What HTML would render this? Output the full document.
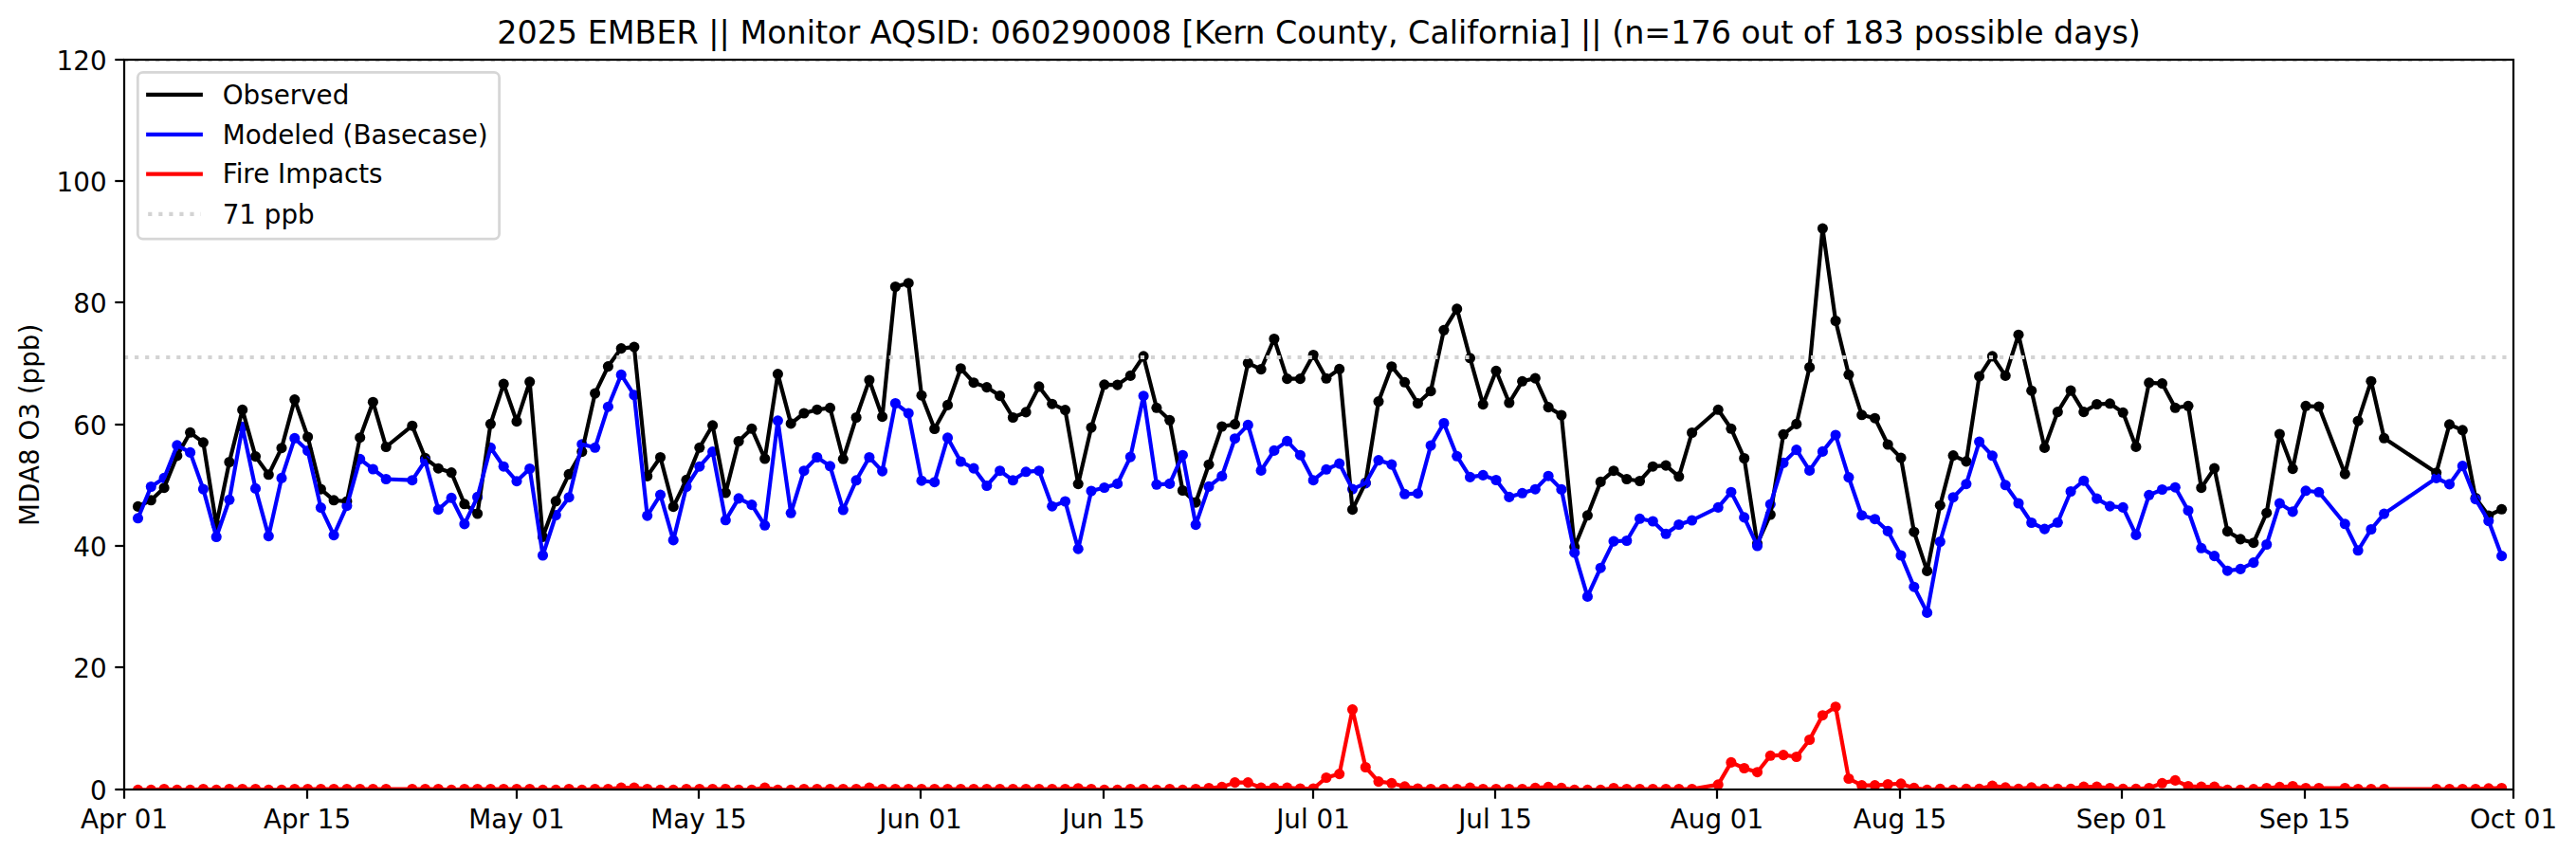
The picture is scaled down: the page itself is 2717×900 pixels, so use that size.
<!DOCTYPE html>
<html lang="en"><head><meta charset="utf-8"><title>2025 EMBER MDA8 O3</title>
<style>html,body{margin:0;padding:0;background:#fff;overflow:hidden;}svg{display:block;}text{font-family:"DejaVu Sans","Liberation Sans",sans-serif;fill:#000;}</style></head><body>
<svg width="2717" height="900" viewBox="0 0 2717 900">
<rect width="2717" height="900" fill="#fff"/>
<defs><clipPath id="ax"><rect x="131.0" y="63.0" width="2520.0" height="770.0"/></clipPath></defs>
<g clip-path="url(#ax)">
<g fill="#000"><circle cx="145.5" cy="534.4" r="5.55"/><circle cx="159.3" cy="527.8" r="5.55"/><circle cx="173.1" cy="514.7" r="5.55"/><circle cx="186.8" cy="480.9" r="5.55"/><circle cx="200.6" cy="456.3" r="5.55"/><circle cx="214.4" cy="466.8" r="5.55"/><circle cx="228.2" cy="553.6" r="5.55"/><circle cx="241.9" cy="487.5" r="5.55"/><circle cx="255.7" cy="432.4" r="5.55"/><circle cx="269.5" cy="481.6" r="5.55"/><circle cx="283.3" cy="500.8" r="5.55"/><circle cx="297.0" cy="472.7" r="5.55"/><circle cx="310.8" cy="421.6" r="5.55"/><circle cx="324.6" cy="461.0" r="5.55"/><circle cx="338.4" cy="516.1" r="5.55"/><circle cx="352.1" cy="527.8" r="5.55"/><circle cx="365.9" cy="529.0" r="5.55"/><circle cx="379.7" cy="461.7" r="5.55"/><circle cx="393.4" cy="424.2" r="5.55"/><circle cx="407.2" cy="471.5" r="5.55"/><circle cx="434.8" cy="449.2" r="5.55"/><circle cx="448.5" cy="483.3" r="5.55"/><circle cx="462.3" cy="494.2" r="5.55"/><circle cx="476.1" cy="498.6" r="5.55"/><circle cx="489.9" cy="531.8" r="5.55"/><circle cx="503.6" cy="542.0" r="5.55"/><circle cx="517.4" cy="447.3" r="5.55"/><circle cx="531.2" cy="405.1" r="5.55"/><circle cx="545.0" cy="444.7" r="5.55"/><circle cx="558.7" cy="402.8" r="5.55"/><circle cx="572.5" cy="566.4" r="5.55"/><circle cx="586.3" cy="528.8" r="5.55"/><circle cx="600.1" cy="500.4" r="5.55"/><circle cx="613.8" cy="476.6" r="5.55"/><circle cx="627.6" cy="415.1" r="5.55"/><circle cx="641.4" cy="386.6" r="5.55"/><circle cx="655.2" cy="367.6" r="5.55"/><circle cx="668.9" cy="366.1" r="5.55"/><circle cx="682.7" cy="502.4" r="5.55"/><circle cx="696.5" cy="482.5" r="5.55"/><circle cx="710.2" cy="534.7" r="5.55"/><circle cx="724.0" cy="506.3" r="5.55"/><circle cx="737.8" cy="472.3" r="5.55"/><circle cx="751.6" cy="448.8" r="5.55"/><circle cx="765.3" cy="520.0" r="5.55"/><circle cx="779.1" cy="465.5" r="5.55"/><circle cx="792.9" cy="452.3" r="5.55"/><circle cx="806.7" cy="484.0" r="5.55"/><circle cx="820.4" cy="394.6" r="5.55"/><circle cx="834.2" cy="446.9" r="5.55"/><circle cx="848.0" cy="436.0" r="5.55"/><circle cx="861.8" cy="432.2" r="5.55"/><circle cx="875.5" cy="430.4" r="5.55"/><circle cx="889.3" cy="484.3" r="5.55"/><circle cx="903.1" cy="440.5" r="5.55"/><circle cx="916.9" cy="401.1" r="5.55"/><circle cx="930.6" cy="439.7" r="5.55"/><circle cx="944.4" cy="302.5" r="5.55"/><circle cx="958.2" cy="298.7" r="5.55"/><circle cx="972.0" cy="417.2" r="5.55"/><circle cx="985.7" cy="452.5" r="5.55"/><circle cx="999.5" cy="427.4" r="5.55"/><circle cx="1013.3" cy="388.7" r="5.55"/><circle cx="1027.0" cy="403.7" r="5.55"/><circle cx="1040.8" cy="408.6" r="5.55"/><circle cx="1054.6" cy="417.6" r="5.55"/><circle cx="1068.4" cy="440.5" r="5.55"/><circle cx="1082.1" cy="434.9" r="5.55"/><circle cx="1095.9" cy="407.9" r="5.55"/><circle cx="1109.7" cy="426.2" r="5.55"/><circle cx="1123.5" cy="432.6" r="5.55"/><circle cx="1137.2" cy="510.6" r="5.55"/><circle cx="1151.0" cy="451.1" r="5.55"/><circle cx="1164.8" cy="405.8" r="5.55"/><circle cx="1178.6" cy="406.1" r="5.55"/><circle cx="1192.3" cy="396.4" r="5.55"/><circle cx="1206.1" cy="375.9" r="5.55"/><circle cx="1219.9" cy="430.3" r="5.55"/><circle cx="1233.7" cy="443.3" r="5.55"/><circle cx="1247.4" cy="517.5" r="5.55"/><circle cx="1261.2" cy="530.1" r="5.55"/><circle cx="1275.0" cy="490.2" r="5.55"/><circle cx="1288.8" cy="450.0" r="5.55"/><circle cx="1302.5" cy="447.6" r="5.55"/><circle cx="1316.3" cy="383.1" r="5.55"/><circle cx="1330.1" cy="389.6" r="5.55"/><circle cx="1343.9" cy="357.5" r="5.55"/><circle cx="1357.6" cy="399.6" r="5.55"/><circle cx="1371.4" cy="399.6" r="5.55"/><circle cx="1385.2" cy="374.5" r="5.55"/><circle cx="1398.9" cy="399.3" r="5.55"/><circle cx="1412.7" cy="389.4" r="5.55"/><circle cx="1426.5" cy="537.7" r="5.55"/><circle cx="1440.3" cy="509.4" r="5.55"/><circle cx="1454.0" cy="423.6" r="5.55"/><circle cx="1467.8" cy="386.7" r="5.55"/><circle cx="1481.6" cy="403.3" r="5.55"/><circle cx="1495.4" cy="425.6" r="5.55"/><circle cx="1509.1" cy="412.7" r="5.55"/><circle cx="1522.9" cy="348.3" r="5.55"/><circle cx="1536.7" cy="325.9" r="5.55"/><circle cx="1550.5" cy="377.8" r="5.55"/><circle cx="1564.2" cy="426.6" r="5.55"/><circle cx="1578.0" cy="391.3" r="5.55"/><circle cx="1591.8" cy="425.0" r="5.55"/><circle cx="1605.6" cy="402.3" r="5.55"/><circle cx="1619.3" cy="399.1" r="5.55"/><circle cx="1633.1" cy="429.6" r="5.55"/><circle cx="1646.9" cy="438.0" r="5.55"/><circle cx="1660.7" cy="577.1" r="5.55"/><circle cx="1674.4" cy="543.8" r="5.55"/><circle cx="1688.2" cy="508.4" r="5.55"/><circle cx="1702.0" cy="496.7" r="5.55"/><circle cx="1715.8" cy="505.5" r="5.55"/><circle cx="1729.5" cy="507.5" r="5.55"/><circle cx="1743.3" cy="492.2" r="5.55"/><circle cx="1757.1" cy="491.1" r="5.55"/><circle cx="1770.8" cy="502.8" r="5.55"/><circle cx="1784.6" cy="456.5" r="5.55"/><circle cx="1812.2" cy="432.3" r="5.55"/><circle cx="1825.9" cy="452.3" r="5.55"/><circle cx="1839.7" cy="483.5" r="5.55"/><circle cx="1853.5" cy="573.7" r="5.55"/><circle cx="1867.3" cy="543.0" r="5.55"/><circle cx="1881.0" cy="458.3" r="5.55"/><circle cx="1894.8" cy="447.4" r="5.55"/><circle cx="1908.6" cy="387.5" r="5.55"/><circle cx="1922.4" cy="241.1" r="5.55"/><circle cx="1936.1" cy="338.5" r="5.55"/><circle cx="1949.9" cy="395.3" r="5.55"/><circle cx="1963.7" cy="437.8" r="5.55"/><circle cx="1977.5" cy="441.2" r="5.55"/><circle cx="1991.2" cy="469.0" r="5.55"/><circle cx="2005.0" cy="483.1" r="5.55"/><circle cx="2018.8" cy="561.2" r="5.55"/><circle cx="2032.6" cy="602.4" r="5.55"/><circle cx="2046.3" cy="533.2" r="5.55"/><circle cx="2060.1" cy="480.6" r="5.55"/><circle cx="2073.9" cy="486.9" r="5.55"/><circle cx="2087.6" cy="397.1" r="5.55"/><circle cx="2101.4" cy="375.9" r="5.55"/><circle cx="2115.2" cy="396.4" r="5.55"/><circle cx="2129.0" cy="353.2" r="5.55"/><circle cx="2142.7" cy="412.2" r="5.55"/><circle cx="2156.5" cy="472.4" r="5.55"/><circle cx="2170.3" cy="434.6" r="5.55"/><circle cx="2184.1" cy="412.1" r="5.55"/><circle cx="2197.8" cy="434.6" r="5.55"/><circle cx="2211.6" cy="426.5" r="5.55"/><circle cx="2225.4" cy="425.8" r="5.55"/><circle cx="2239.2" cy="435.3" r="5.55"/><circle cx="2252.9" cy="471.4" r="5.55"/><circle cx="2266.7" cy="403.8" r="5.55"/><circle cx="2280.5" cy="404.6" r="5.55"/><circle cx="2294.3" cy="430.3" r="5.55"/><circle cx="2308.0" cy="428.3" r="5.55"/><circle cx="2321.8" cy="514.7" r="5.55"/><circle cx="2335.6" cy="494.1" r="5.55"/><circle cx="2349.4" cy="560.6" r="5.55"/><circle cx="2363.1" cy="568.9" r="5.55"/><circle cx="2376.9" cy="572.7" r="5.55"/><circle cx="2390.7" cy="541.2" r="5.55"/><circle cx="2404.4" cy="458.0" r="5.55"/><circle cx="2418.2" cy="494.6" r="5.55"/><circle cx="2432.0" cy="428.3" r="5.55"/><circle cx="2445.8" cy="429.0" r="5.55"/><circle cx="2473.3" cy="500.1" r="5.55"/><circle cx="2487.1" cy="444.2" r="5.55"/><circle cx="2500.9" cy="402.2" r="5.55"/><circle cx="2514.6" cy="462.3" r="5.55"/><circle cx="2569.7" cy="498.8" r="5.55"/><circle cx="2583.5" cy="447.9" r="5.55"/><circle cx="2597.3" cy="453.9" r="5.55"/><circle cx="2611.1" cy="525.5" r="5.55"/><circle cx="2624.8" cy="544.0" r="5.55"/><circle cx="2638.6" cy="537.3" r="5.55"/></g>
<g fill="#0000ff"><circle cx="145.5" cy="546.8" r="5.55"/><circle cx="159.3" cy="513.5" r="5.55"/><circle cx="173.1" cy="504.4" r="5.55"/><circle cx="186.8" cy="469.9" r="5.55"/><circle cx="200.6" cy="477.4" r="5.55"/><circle cx="214.4" cy="516.1" r="5.55"/><circle cx="228.2" cy="566.5" r="5.55"/><circle cx="241.9" cy="527.3" r="5.55"/><circle cx="255.7" cy="450.4" r="5.55"/><circle cx="269.5" cy="515.4" r="5.55"/><circle cx="283.3" cy="565.6" r="5.55"/><circle cx="297.0" cy="504.4" r="5.55"/><circle cx="310.8" cy="462.4" r="5.55"/><circle cx="324.6" cy="475.5" r="5.55"/><circle cx="338.4" cy="535.6" r="5.55"/><circle cx="352.1" cy="564.6" r="5.55"/><circle cx="365.9" cy="533.7" r="5.55"/><circle cx="379.7" cy="484.4" r="5.55"/><circle cx="393.4" cy="495.0" r="5.55"/><circle cx="407.2" cy="505.5" r="5.55"/><circle cx="434.8" cy="506.7" r="5.55"/><circle cx="448.5" cy="486.1" r="5.55"/><circle cx="462.3" cy="537.6" r="5.55"/><circle cx="476.1" cy="525.3" r="5.55"/><circle cx="489.9" cy="552.9" r="5.55"/><circle cx="503.6" cy="524.4" r="5.55"/><circle cx="517.4" cy="472.3" r="5.55"/><circle cx="531.2" cy="492.2" r="5.55"/><circle cx="545.0" cy="507.7" r="5.55"/><circle cx="558.7" cy="494.5" r="5.55"/><circle cx="572.5" cy="586.0" r="5.55"/><circle cx="586.3" cy="543.5" r="5.55"/><circle cx="600.1" cy="524.7" r="5.55"/><circle cx="613.8" cy="468.7" r="5.55"/><circle cx="627.6" cy="472.3" r="5.55"/><circle cx="641.4" cy="429.2" r="5.55"/><circle cx="655.2" cy="395.4" r="5.55"/><circle cx="668.9" cy="416.8" r="5.55"/><circle cx="682.7" cy="544.1" r="5.55"/><circle cx="696.5" cy="522.1" r="5.55"/><circle cx="710.2" cy="569.9" r="5.55"/><circle cx="724.0" cy="513.6" r="5.55"/><circle cx="737.8" cy="492.2" r="5.55"/><circle cx="751.6" cy="476.6" r="5.55"/><circle cx="765.3" cy="548.8" r="5.55"/><circle cx="779.1" cy="525.9" r="5.55"/><circle cx="792.9" cy="532.6" r="5.55"/><circle cx="806.7" cy="554.3" r="5.55"/><circle cx="820.4" cy="443.8" r="5.55"/><circle cx="834.2" cy="541.3" r="5.55"/><circle cx="848.0" cy="496.7" r="5.55"/><circle cx="861.8" cy="482.5" r="5.55"/><circle cx="875.5" cy="491.8" r="5.55"/><circle cx="889.3" cy="538.0" r="5.55"/><circle cx="903.1" cy="506.8" r="5.55"/><circle cx="916.9" cy="482.5" r="5.55"/><circle cx="930.6" cy="497.1" r="5.55"/><circle cx="944.4" cy="425.5" r="5.55"/><circle cx="958.2" cy="436.0" r="5.55"/><circle cx="972.0" cy="507.2" r="5.55"/><circle cx="985.7" cy="508.7" r="5.55"/><circle cx="999.5" cy="461.9" r="5.55"/><circle cx="1013.3" cy="487.0" r="5.55"/><circle cx="1027.0" cy="494.1" r="5.55"/><circle cx="1040.8" cy="512.5" r="5.55"/><circle cx="1054.6" cy="496.7" r="5.55"/><circle cx="1068.4" cy="506.8" r="5.55"/><circle cx="1082.1" cy="497.8" r="5.55"/><circle cx="1095.9" cy="496.7" r="5.55"/><circle cx="1109.7" cy="534.2" r="5.55"/><circle cx="1123.5" cy="529.0" r="5.55"/><circle cx="1137.2" cy="579.2" r="5.55"/><circle cx="1151.0" cy="518.0" r="5.55"/><circle cx="1164.8" cy="514.5" r="5.55"/><circle cx="1178.6" cy="510.4" r="5.55"/><circle cx="1192.3" cy="482.1" r="5.55"/><circle cx="1206.1" cy="417.7" r="5.55"/><circle cx="1219.9" cy="511.3" r="5.55"/><circle cx="1233.7" cy="510.4" r="5.55"/><circle cx="1247.4" cy="480.2" r="5.55"/><circle cx="1261.2" cy="553.6" r="5.55"/><circle cx="1275.0" cy="513.4" r="5.55"/><circle cx="1288.8" cy="502.4" r="5.55"/><circle cx="1302.5" cy="462.7" r="5.55"/><circle cx="1316.3" cy="448.4" r="5.55"/><circle cx="1330.1" cy="496.4" r="5.55"/><circle cx="1343.9" cy="475.4" r="5.55"/><circle cx="1357.6" cy="465.4" r="5.55"/><circle cx="1371.4" cy="480.2" r="5.55"/><circle cx="1385.2" cy="506.7" r="5.55"/><circle cx="1398.9" cy="495.3" r="5.55"/><circle cx="1412.7" cy="489.1" r="5.55"/><circle cx="1426.5" cy="516.1" r="5.55"/><circle cx="1440.3" cy="509.9" r="5.55"/><circle cx="1454.0" cy="485.6" r="5.55"/><circle cx="1467.8" cy="490.1" r="5.55"/><circle cx="1481.6" cy="521.3" r="5.55"/><circle cx="1495.4" cy="520.7" r="5.55"/><circle cx="1509.1" cy="470.1" r="5.55"/><circle cx="1522.9" cy="446.5" r="5.55"/><circle cx="1536.7" cy="481.3" r="5.55"/><circle cx="1550.5" cy="503.4" r="5.55"/><circle cx="1564.2" cy="501.4" r="5.55"/><circle cx="1578.0" cy="506.5" r="5.55"/><circle cx="1591.8" cy="524.4" r="5.55"/><circle cx="1605.6" cy="520.3" r="5.55"/><circle cx="1619.3" cy="516.2" r="5.55"/><circle cx="1633.1" cy="502.2" r="5.55"/><circle cx="1646.9" cy="516.4" r="5.55"/><circle cx="1660.7" cy="583.2" r="5.55"/><circle cx="1674.4" cy="629.4" r="5.55"/><circle cx="1688.2" cy="599.2" r="5.55"/><circle cx="1702.0" cy="571.1" r="5.55"/><circle cx="1715.8" cy="570.5" r="5.55"/><circle cx="1729.5" cy="547.3" r="5.55"/><circle cx="1743.3" cy="550.0" r="5.55"/><circle cx="1757.1" cy="563.3" r="5.55"/><circle cx="1770.8" cy="553.5" r="5.55"/><circle cx="1784.6" cy="549.0" r="5.55"/><circle cx="1812.2" cy="535.4" r="5.55"/><circle cx="1825.9" cy="519.2" r="5.55"/><circle cx="1839.7" cy="545.9" r="5.55"/><circle cx="1853.5" cy="576.0" r="5.55"/><circle cx="1867.3" cy="532.1" r="5.55"/><circle cx="1881.0" cy="488.4" r="5.55"/><circle cx="1894.8" cy="474.6" r="5.55"/><circle cx="1908.6" cy="496.4" r="5.55"/><circle cx="1922.4" cy="476.4" r="5.55"/><circle cx="1936.1" cy="459.0" r="5.55"/><circle cx="1949.9" cy="503.6" r="5.55"/><circle cx="1963.7" cy="543.7" r="5.55"/><circle cx="1977.5" cy="547.7" r="5.55"/><circle cx="1991.2" cy="560.4" r="5.55"/><circle cx="2005.0" cy="586.0" r="5.55"/><circle cx="2018.8" cy="619.2" r="5.55"/><circle cx="2032.6" cy="646.4" r="5.55"/><circle cx="2046.3" cy="571.5" r="5.55"/><circle cx="2060.1" cy="524.7" r="5.55"/><circle cx="2073.9" cy="510.7" r="5.55"/><circle cx="2087.6" cy="466.1" r="5.55"/><circle cx="2101.4" cy="480.8" r="5.55"/><circle cx="2115.2" cy="511.8" r="5.55"/><circle cx="2129.0" cy="531.0" r="5.55"/><circle cx="2142.7" cy="551.5" r="5.55"/><circle cx="2156.5" cy="558.1" r="5.55"/><circle cx="2170.3" cy="551.3" r="5.55"/><circle cx="2184.1" cy="518.5" r="5.55"/><circle cx="2197.8" cy="507.2" r="5.55"/><circle cx="2211.6" cy="526.1" r="5.55"/><circle cx="2225.4" cy="534.1" r="5.55"/><circle cx="2239.2" cy="535.4" r="5.55"/><circle cx="2252.9" cy="564.4" r="5.55"/><circle cx="2266.7" cy="522.3" r="5.55"/><circle cx="2280.5" cy="516.5" r="5.55"/><circle cx="2294.3" cy="514.2" r="5.55"/><circle cx="2308.0" cy="538.7" r="5.55"/><circle cx="2321.8" cy="578.3" r="5.55"/><circle cx="2335.6" cy="586.6" r="5.55"/><circle cx="2349.4" cy="602.2" r="5.55"/><circle cx="2363.1" cy="600.4" r="5.55"/><circle cx="2376.9" cy="593.6" r="5.55"/><circle cx="2390.7" cy="574.5" r="5.55"/><circle cx="2404.4" cy="531.1" r="5.55"/><circle cx="2418.2" cy="539.9" r="5.55"/><circle cx="2432.0" cy="517.8" r="5.55"/><circle cx="2445.8" cy="519.3" r="5.55"/><circle cx="2473.3" cy="552.8" r="5.55"/><circle cx="2487.1" cy="580.8" r="5.55"/><circle cx="2500.9" cy="558.5" r="5.55"/><circle cx="2514.6" cy="542.1" r="5.55"/><circle cx="2569.7" cy="504.4" r="5.55"/><circle cx="2583.5" cy="510.9" r="5.55"/><circle cx="2597.3" cy="491.6" r="5.55"/><circle cx="2611.1" cy="526.7" r="5.55"/><circle cx="2624.8" cy="549.6" r="5.55"/><circle cx="2638.6" cy="586.6" r="5.55"/></g>
<g fill="#ff0000"><circle cx="145.5" cy="833.4" r="5.55"/><circle cx="159.3" cy="833.4" r="5.55"/><circle cx="173.1" cy="832.5" r="5.55"/><circle cx="186.8" cy="833.4" r="5.55"/><circle cx="200.6" cy="833.4" r="5.55"/><circle cx="214.4" cy="832.5" r="5.55"/><circle cx="228.2" cy="833.4" r="5.55"/><circle cx="241.9" cy="832.5" r="5.55"/><circle cx="255.7" cy="832.5" r="5.55"/><circle cx="269.5" cy="832.5" r="5.55"/><circle cx="283.3" cy="833.4" r="5.55"/><circle cx="297.0" cy="833.4" r="5.55"/><circle cx="310.8" cy="832.5" r="5.55"/><circle cx="324.6" cy="832.5" r="5.55"/><circle cx="338.4" cy="832.5" r="5.55"/><circle cx="352.1" cy="832.5" r="5.55"/><circle cx="365.9" cy="832.5" r="5.55"/><circle cx="379.7" cy="832.5" r="5.55"/><circle cx="393.4" cy="832.5" r="5.55"/><circle cx="407.2" cy="832.5" r="5.55"/><circle cx="434.8" cy="832.5" r="5.55"/><circle cx="448.5" cy="832.5" r="5.55"/><circle cx="462.3" cy="832.5" r="5.55"/><circle cx="476.1" cy="833.4" r="5.55"/><circle cx="489.9" cy="832.5" r="5.55"/><circle cx="503.6" cy="832.5" r="5.55"/><circle cx="517.4" cy="832.5" r="5.55"/><circle cx="531.2" cy="832.5" r="5.55"/><circle cx="545.0" cy="832.5" r="5.55"/><circle cx="558.7" cy="832.5" r="5.55"/><circle cx="572.5" cy="833.4" r="5.55"/><circle cx="586.3" cy="833.4" r="5.55"/><circle cx="600.1" cy="832.5" r="5.55"/><circle cx="613.8" cy="833.4" r="5.55"/><circle cx="627.6" cy="832.5" r="5.55"/><circle cx="641.4" cy="832.5" r="5.55"/><circle cx="655.2" cy="831.1" r="5.55"/><circle cx="668.9" cy="831.1" r="5.55"/><circle cx="682.7" cy="832.5" r="5.55"/><circle cx="696.5" cy="833.4" r="5.55"/><circle cx="710.2" cy="833.4" r="5.55"/><circle cx="724.0" cy="832.5" r="5.55"/><circle cx="737.8" cy="832.5" r="5.55"/><circle cx="751.6" cy="832.5" r="5.55"/><circle cx="765.3" cy="832.5" r="5.55"/><circle cx="779.1" cy="833.4" r="5.55"/><circle cx="792.9" cy="833.4" r="5.55"/><circle cx="806.7" cy="831.1" r="5.55"/><circle cx="820.4" cy="833.4" r="5.55"/><circle cx="834.2" cy="833.4" r="5.55"/><circle cx="848.0" cy="832.5" r="5.55"/><circle cx="861.8" cy="832.5" r="5.55"/><circle cx="875.5" cy="832.5" r="5.55"/><circle cx="889.3" cy="832.5" r="5.55"/><circle cx="903.1" cy="832.5" r="5.55"/><circle cx="916.9" cy="831.1" r="5.55"/><circle cx="930.6" cy="832.5" r="5.55"/><circle cx="944.4" cy="832.5" r="5.55"/><circle cx="958.2" cy="832.5" r="5.55"/><circle cx="972.0" cy="832.5" r="5.55"/><circle cx="985.7" cy="832.5" r="5.55"/><circle cx="999.5" cy="832.5" r="5.55"/><circle cx="1013.3" cy="832.5" r="5.55"/><circle cx="1027.0" cy="832.5" r="5.55"/><circle cx="1040.8" cy="832.5" r="5.55"/><circle cx="1054.6" cy="832.5" r="5.55"/><circle cx="1068.4" cy="832.5" r="5.55"/><circle cx="1082.1" cy="832.5" r="5.55"/><circle cx="1095.9" cy="832.5" r="5.55"/><circle cx="1109.7" cy="832.5" r="5.55"/><circle cx="1123.5" cy="832.5" r="5.55"/><circle cx="1137.2" cy="831.7" r="5.55"/><circle cx="1151.0" cy="832.5" r="5.55"/><circle cx="1164.8" cy="833.4" r="5.55"/><circle cx="1178.6" cy="833.4" r="5.55"/><circle cx="1192.3" cy="832.5" r="5.55"/><circle cx="1206.1" cy="832.5" r="5.55"/><circle cx="1219.9" cy="833.4" r="5.55"/><circle cx="1233.7" cy="832.5" r="5.55"/><circle cx="1247.4" cy="833.4" r="5.55"/><circle cx="1261.2" cy="832.5" r="5.55"/><circle cx="1275.0" cy="831.5" r="5.55"/><circle cx="1288.8" cy="830.4" r="5.55"/><circle cx="1302.5" cy="825.6" r="5.55"/><circle cx="1316.3" cy="825.6" r="5.55"/><circle cx="1330.1" cy="831.1" r="5.55"/><circle cx="1343.9" cy="831.1" r="5.55"/><circle cx="1357.6" cy="831.1" r="5.55"/><circle cx="1371.4" cy="832.0" r="5.55"/><circle cx="1385.2" cy="832.0" r="5.55"/><circle cx="1398.9" cy="820.5" r="5.55"/><circle cx="1412.7" cy="816.6" r="5.55"/><circle cx="1426.5" cy="748.6" r="5.55"/><circle cx="1440.3" cy="809.5" r="5.55"/><circle cx="1454.0" cy="824.6" r="5.55"/><circle cx="1467.8" cy="826.3" r="5.55"/><circle cx="1481.6" cy="829.9" r="5.55"/><circle cx="1495.4" cy="832.0" r="5.55"/><circle cx="1509.1" cy="832.5" r="5.55"/><circle cx="1522.9" cy="832.5" r="5.55"/><circle cx="1536.7" cy="832.5" r="5.55"/><circle cx="1550.5" cy="831.1" r="5.55"/><circle cx="1564.2" cy="832.5" r="5.55"/><circle cx="1578.0" cy="832.5" r="5.55"/><circle cx="1591.8" cy="832.5" r="5.55"/><circle cx="1605.6" cy="832.5" r="5.55"/><circle cx="1619.3" cy="831.3" r="5.55"/><circle cx="1633.1" cy="830.4" r="5.55"/><circle cx="1646.9" cy="831.3" r="5.55"/><circle cx="1660.7" cy="833.4" r="5.55"/><circle cx="1674.4" cy="833.4" r="5.55"/><circle cx="1688.2" cy="833.4" r="5.55"/><circle cx="1702.0" cy="831.5" r="5.55"/><circle cx="1715.8" cy="832.5" r="5.55"/><circle cx="1729.5" cy="832.5" r="5.55"/><circle cx="1743.3" cy="832.5" r="5.55"/><circle cx="1757.1" cy="832.5" r="5.55"/><circle cx="1770.8" cy="832.5" r="5.55"/><circle cx="1784.6" cy="832.5" r="5.55"/><circle cx="1812.2" cy="827.9" r="5.55"/><circle cx="1825.9" cy="804.4" r="5.55"/><circle cx="1839.7" cy="810.5" r="5.55"/><circle cx="1853.5" cy="814.7" r="5.55"/><circle cx="1867.3" cy="797.3" r="5.55"/><circle cx="1881.0" cy="796.6" r="5.55"/><circle cx="1894.8" cy="798.5" r="5.55"/><circle cx="1908.6" cy="780.5" r="5.55"/><circle cx="1922.4" cy="754.7" r="5.55"/><circle cx="1936.1" cy="745.7" r="5.55"/><circle cx="1949.9" cy="821.5" r="5.55"/><circle cx="1963.7" cy="828.6" r="5.55"/><circle cx="1977.5" cy="828.6" r="5.55"/><circle cx="1991.2" cy="827.5" r="5.55"/><circle cx="2005.0" cy="826.9" r="5.55"/><circle cx="2018.8" cy="831.4" r="5.55"/><circle cx="2032.6" cy="833.4" r="5.55"/><circle cx="2046.3" cy="832.4" r="5.55"/><circle cx="2060.1" cy="833.4" r="5.55"/><circle cx="2073.9" cy="832.4" r="5.55"/><circle cx="2087.6" cy="832.4" r="5.55"/><circle cx="2101.4" cy="829.1" r="5.55"/><circle cx="2115.2" cy="830.9" r="5.55"/><circle cx="2129.0" cy="832.4" r="5.55"/><circle cx="2142.7" cy="830.9" r="5.55"/><circle cx="2156.5" cy="832.4" r="5.55"/><circle cx="2170.3" cy="832.4" r="5.55"/><circle cx="2184.1" cy="832.4" r="5.55"/><circle cx="2197.8" cy="830.1" r="5.55"/><circle cx="2211.6" cy="830.1" r="5.55"/><circle cx="2225.4" cy="831.5" r="5.55"/><circle cx="2239.2" cy="832.4" r="5.55"/><circle cx="2252.9" cy="832.4" r="5.55"/><circle cx="2266.7" cy="831.5" r="5.55"/><circle cx="2280.5" cy="826.3" r="5.55"/><circle cx="2294.3" cy="823.4" r="5.55"/><circle cx="2308.0" cy="829.5" r="5.55"/><circle cx="2321.8" cy="830.1" r="5.55"/><circle cx="2335.6" cy="830.1" r="5.55"/><circle cx="2349.4" cy="833.4" r="5.55"/><circle cx="2363.1" cy="833.4" r="5.55"/><circle cx="2376.9" cy="832.6" r="5.55"/><circle cx="2390.7" cy="831.5" r="5.55"/><circle cx="2404.4" cy="830.4" r="5.55"/><circle cx="2418.2" cy="829.5" r="5.55"/><circle cx="2432.0" cy="831.5" r="5.55"/><circle cx="2445.8" cy="831.5" r="5.55"/><circle cx="2473.3" cy="831.5" r="5.55"/><circle cx="2487.1" cy="832.5" r="5.55"/><circle cx="2500.9" cy="832.5" r="5.55"/><circle cx="2514.6" cy="832.5" r="5.55"/><circle cx="2569.7" cy="832.5" r="5.55"/><circle cx="2583.5" cy="832.5" r="5.55"/><circle cx="2597.3" cy="832.5" r="5.55"/><circle cx="2611.1" cy="832.5" r="5.55"/><circle cx="2624.8" cy="831.9" r="5.55"/><circle cx="2638.6" cy="831.5" r="5.55"/></g>
<polyline fill="none" stroke="#000" stroke-width="4.17" stroke-linejoin="round" stroke-linecap="square" points="145.5,534.4 159.3,527.8 173.1,514.7 186.8,480.9 200.6,456.3 214.4,466.8 228.2,553.6 241.9,487.5 255.7,432.4 269.5,481.6 283.3,500.8 297.0,472.7 310.8,421.6 324.6,461.0 338.4,516.1 352.1,527.8 365.9,529.0 379.7,461.7 393.4,424.2 407.2,471.5 434.8,449.2 448.5,483.3 462.3,494.2 476.1,498.6 489.9,531.8 503.6,542.0 517.4,447.3 531.2,405.1 545.0,444.7 558.7,402.8 572.5,566.4 586.3,528.8 600.1,500.4 613.8,476.6 627.6,415.1 641.4,386.6 655.2,367.6 668.9,366.1 682.7,502.4 696.5,482.5 710.2,534.7 724.0,506.3 737.8,472.3 751.6,448.8 765.3,520.0 779.1,465.5 792.9,452.3 806.7,484.0 820.4,394.6 834.2,446.9 848.0,436.0 861.8,432.2 875.5,430.4 889.3,484.3 903.1,440.5 916.9,401.1 930.6,439.7 944.4,302.5 958.2,298.7 972.0,417.2 985.7,452.5 999.5,427.4 1013.3,388.7 1027.0,403.7 1040.8,408.6 1054.6,417.6 1068.4,440.5 1082.1,434.9 1095.9,407.9 1109.7,426.2 1123.5,432.6 1137.2,510.6 1151.0,451.1 1164.8,405.8 1178.6,406.1 1192.3,396.4 1206.1,375.9 1219.9,430.3 1233.7,443.3 1247.4,517.5 1261.2,530.1 1275.0,490.2 1288.8,450.0 1302.5,447.6 1316.3,383.1 1330.1,389.6 1343.9,357.5 1357.6,399.6 1371.4,399.6 1385.2,374.5 1398.9,399.3 1412.7,389.4 1426.5,537.7 1440.3,509.4 1454.0,423.6 1467.8,386.7 1481.6,403.3 1495.4,425.6 1509.1,412.7 1522.9,348.3 1536.7,325.9 1550.5,377.8 1564.2,426.6 1578.0,391.3 1591.8,425.0 1605.6,402.3 1619.3,399.1 1633.1,429.6 1646.9,438.0 1660.7,577.1 1674.4,543.8 1688.2,508.4 1702.0,496.7 1715.8,505.5 1729.5,507.5 1743.3,492.2 1757.1,491.1 1770.8,502.8 1784.6,456.5 1812.2,432.3 1825.9,452.3 1839.7,483.5 1853.5,573.7 1867.3,543.0 1881.0,458.3 1894.8,447.4 1908.6,387.5 1922.4,241.1 1936.1,338.5 1949.9,395.3 1963.7,437.8 1977.5,441.2 1991.2,469.0 2005.0,483.1 2018.8,561.2 2032.6,602.4 2046.3,533.2 2060.1,480.6 2073.9,486.9 2087.6,397.1 2101.4,375.9 2115.2,396.4 2129.0,353.2 2142.7,412.2 2156.5,472.4 2170.3,434.6 2184.1,412.1 2197.8,434.6 2211.6,426.5 2225.4,425.8 2239.2,435.3 2252.9,471.4 2266.7,403.8 2280.5,404.6 2294.3,430.3 2308.0,428.3 2321.8,514.7 2335.6,494.1 2349.4,560.6 2363.1,568.9 2376.9,572.7 2390.7,541.2 2404.4,458.0 2418.2,494.6 2432.0,428.3 2445.8,429.0 2473.3,500.1 2487.1,444.2 2500.9,402.2 2514.6,462.3 2569.7,498.8 2583.5,447.9 2597.3,453.9 2611.1,525.5 2624.8,544.0 2638.6,537.3"/>
<polyline fill="none" stroke="#0000ff" stroke-width="4.17" stroke-linejoin="round" stroke-linecap="square" points="145.5,546.8 159.3,513.5 173.1,504.4 186.8,469.9 200.6,477.4 214.4,516.1 228.2,566.5 241.9,527.3 255.7,450.4 269.5,515.4 283.3,565.6 297.0,504.4 310.8,462.4 324.6,475.5 338.4,535.6 352.1,564.6 365.9,533.7 379.7,484.4 393.4,495.0 407.2,505.5 434.8,506.7 448.5,486.1 462.3,537.6 476.1,525.3 489.9,552.9 503.6,524.4 517.4,472.3 531.2,492.2 545.0,507.7 558.7,494.5 572.5,586.0 586.3,543.5 600.1,524.7 613.8,468.7 627.6,472.3 641.4,429.2 655.2,395.4 668.9,416.8 682.7,544.1 696.5,522.1 710.2,569.9 724.0,513.6 737.8,492.2 751.6,476.6 765.3,548.8 779.1,525.9 792.9,532.6 806.7,554.3 820.4,443.8 834.2,541.3 848.0,496.7 861.8,482.5 875.5,491.8 889.3,538.0 903.1,506.8 916.9,482.5 930.6,497.1 944.4,425.5 958.2,436.0 972.0,507.2 985.7,508.7 999.5,461.9 1013.3,487.0 1027.0,494.1 1040.8,512.5 1054.6,496.7 1068.4,506.8 1082.1,497.8 1095.9,496.7 1109.7,534.2 1123.5,529.0 1137.2,579.2 1151.0,518.0 1164.8,514.5 1178.6,510.4 1192.3,482.1 1206.1,417.7 1219.9,511.3 1233.7,510.4 1247.4,480.2 1261.2,553.6 1275.0,513.4 1288.8,502.4 1302.5,462.7 1316.3,448.4 1330.1,496.4 1343.9,475.4 1357.6,465.4 1371.4,480.2 1385.2,506.7 1398.9,495.3 1412.7,489.1 1426.5,516.1 1440.3,509.9 1454.0,485.6 1467.8,490.1 1481.6,521.3 1495.4,520.7 1509.1,470.1 1522.9,446.5 1536.7,481.3 1550.5,503.4 1564.2,501.4 1578.0,506.5 1591.8,524.4 1605.6,520.3 1619.3,516.2 1633.1,502.2 1646.9,516.4 1660.7,583.2 1674.4,629.4 1688.2,599.2 1702.0,571.1 1715.8,570.5 1729.5,547.3 1743.3,550.0 1757.1,563.3 1770.8,553.5 1784.6,549.0 1812.2,535.4 1825.9,519.2 1839.7,545.9 1853.5,576.0 1867.3,532.1 1881.0,488.4 1894.8,474.6 1908.6,496.4 1922.4,476.4 1936.1,459.0 1949.9,503.6 1963.7,543.7 1977.5,547.7 1991.2,560.4 2005.0,586.0 2018.8,619.2 2032.6,646.4 2046.3,571.5 2060.1,524.7 2073.9,510.7 2087.6,466.1 2101.4,480.8 2115.2,511.8 2129.0,531.0 2142.7,551.5 2156.5,558.1 2170.3,551.3 2184.1,518.5 2197.8,507.2 2211.6,526.1 2225.4,534.1 2239.2,535.4 2252.9,564.4 2266.7,522.3 2280.5,516.5 2294.3,514.2 2308.0,538.7 2321.8,578.3 2335.6,586.6 2349.4,602.2 2363.1,600.4 2376.9,593.6 2390.7,574.5 2404.4,531.1 2418.2,539.9 2432.0,517.8 2445.8,519.3 2473.3,552.8 2487.1,580.8 2500.9,558.5 2514.6,542.1 2569.7,504.4 2583.5,510.9 2597.3,491.6 2611.1,526.7 2624.8,549.6 2638.6,586.6"/>
<polyline fill="none" stroke="#ff0000" stroke-width="4.17" stroke-linejoin="round" stroke-linecap="square" points="145.5,833.4 159.3,833.4 173.1,832.5 186.8,833.4 200.6,833.4 214.4,832.5 228.2,833.4 241.9,832.5 255.7,832.5 269.5,832.5 283.3,833.4 297.0,833.4 310.8,832.5 324.6,832.5 338.4,832.5 352.1,832.5 365.9,832.5 379.7,832.5 393.4,832.5 407.2,832.5 434.8,832.5 448.5,832.5 462.3,832.5 476.1,833.4 489.9,832.5 503.6,832.5 517.4,832.5 531.2,832.5 545.0,832.5 558.7,832.5 572.5,833.4 586.3,833.4 600.1,832.5 613.8,833.4 627.6,832.5 641.4,832.5 655.2,831.1 668.9,831.1 682.7,832.5 696.5,833.4 710.2,833.4 724.0,832.5 737.8,832.5 751.6,832.5 765.3,832.5 779.1,833.4 792.9,833.4 806.7,831.1 820.4,833.4 834.2,833.4 848.0,832.5 861.8,832.5 875.5,832.5 889.3,832.5 903.1,832.5 916.9,831.1 930.6,832.5 944.4,832.5 958.2,832.5 972.0,832.5 985.7,832.5 999.5,832.5 1013.3,832.5 1027.0,832.5 1040.8,832.5 1054.6,832.5 1068.4,832.5 1082.1,832.5 1095.9,832.5 1109.7,832.5 1123.5,832.5 1137.2,831.7 1151.0,832.5 1164.8,833.4 1178.6,833.4 1192.3,832.5 1206.1,832.5 1219.9,833.4 1233.7,832.5 1247.4,833.4 1261.2,832.5 1275.0,831.5 1288.8,830.4 1302.5,825.6 1316.3,825.6 1330.1,831.1 1343.9,831.1 1357.6,831.1 1371.4,832.0 1385.2,832.0 1398.9,820.5 1412.7,816.6 1426.5,748.6 1440.3,809.5 1454.0,824.6 1467.8,826.3 1481.6,829.9 1495.4,832.0 1509.1,832.5 1522.9,832.5 1536.7,832.5 1550.5,831.1 1564.2,832.5 1578.0,832.5 1591.8,832.5 1605.6,832.5 1619.3,831.3 1633.1,830.4 1646.9,831.3 1660.7,833.4 1674.4,833.4 1688.2,833.4 1702.0,831.5 1715.8,832.5 1729.5,832.5 1743.3,832.5 1757.1,832.5 1770.8,832.5 1784.6,832.5 1812.2,827.9 1825.9,804.4 1839.7,810.5 1853.5,814.7 1867.3,797.3 1881.0,796.6 1894.8,798.5 1908.6,780.5 1922.4,754.7 1936.1,745.7 1949.9,821.5 1963.7,828.6 1977.5,828.6 1991.2,827.5 2005.0,826.9 2018.8,831.4 2032.6,833.4 2046.3,832.4 2060.1,833.4 2073.9,832.4 2087.6,832.4 2101.4,829.1 2115.2,830.9 2129.0,832.4 2142.7,830.9 2156.5,832.4 2170.3,832.4 2184.1,832.4 2197.8,830.1 2211.6,830.1 2225.4,831.5 2239.2,832.4 2252.9,832.4 2266.7,831.5 2280.5,826.3 2294.3,823.4 2308.0,829.5 2321.8,830.1 2335.6,830.1 2349.4,833.4 2363.1,833.4 2376.9,832.6 2390.7,831.5 2404.4,830.4 2418.2,829.5 2432.0,831.5 2445.8,831.5 2473.3,831.5 2487.1,832.5 2500.9,832.5 2514.6,832.5 2569.7,832.5 2583.5,832.5 2597.3,832.5 2611.1,832.5 2624.8,831.9 2638.6,831.5"/>
</g>
<line x1="131.0" y1="377.00" x2="2651.0" y2="377.00" stroke="#d3d3d3" stroke-width="4.17" stroke-dasharray="4.17 6.880" clip-path="url(#ax)"/>
<line x1="131.0" y1="63.0" x2="2651.0" y2="63.0" stroke="#d3d3d3" stroke-width="4.17" stroke-dasharray="4.17 6.880" clip-path="url(#ax)"/>
<line x1="131.00" y1="833.0" x2="131.00" y2="842.72" stroke="#000" stroke-width="2.22"/><text x="131.00" y="874.0" font-size="27.78" text-anchor="middle">Apr 01</text><line x1="324.00" y1="833.0" x2="324.00" y2="842.72" stroke="#000" stroke-width="2.22"/><text x="324.00" y="874.0" font-size="27.78" text-anchor="middle">Apr 15</text><line x1="545.00" y1="833.0" x2="545.00" y2="842.72" stroke="#000" stroke-width="2.22"/><text x="545.00" y="874.0" font-size="27.78" text-anchor="middle">May 01</text><line x1="737.00" y1="833.0" x2="737.00" y2="842.72" stroke="#000" stroke-width="2.22"/><text x="737.00" y="874.0" font-size="27.78" text-anchor="middle">May 15</text><line x1="971.00" y1="833.0" x2="971.00" y2="842.72" stroke="#000" stroke-width="2.22"/><text x="971.00" y="874.0" font-size="27.78" text-anchor="middle">Jun 01</text><line x1="1164.00" y1="833.0" x2="1164.00" y2="842.72" stroke="#000" stroke-width="2.22"/><text x="1164.00" y="874.0" font-size="27.78" text-anchor="middle">Jun 15</text><line x1="1385.00" y1="833.0" x2="1385.00" y2="842.72" stroke="#000" stroke-width="2.22"/><text x="1385.00" y="874.0" font-size="27.78" text-anchor="middle">Jul 01</text><line x1="1577.00" y1="833.0" x2="1577.00" y2="842.72" stroke="#000" stroke-width="2.22"/><text x="1577.00" y="874.0" font-size="27.78" text-anchor="middle">Jul 15</text><line x1="1811.00" y1="833.0" x2="1811.00" y2="842.72" stroke="#000" stroke-width="2.22"/><text x="1811.00" y="874.0" font-size="27.78" text-anchor="middle">Aug 01</text><line x1="2004.00" y1="833.0" x2="2004.00" y2="842.72" stroke="#000" stroke-width="2.22"/><text x="2004.00" y="874.0" font-size="27.78" text-anchor="middle">Aug 15</text><line x1="2238.00" y1="833.0" x2="2238.00" y2="842.72" stroke="#000" stroke-width="2.22"/><text x="2238.00" y="874.0" font-size="27.78" text-anchor="middle">Sep 01</text><line x1="2431.00" y1="833.0" x2="2431.00" y2="842.72" stroke="#000" stroke-width="2.22"/><text x="2431.00" y="874.0" font-size="27.78" text-anchor="middle">Sep 15</text><line x1="2651.00" y1="833.0" x2="2651.00" y2="842.72" stroke="#000" stroke-width="2.22"/><text x="2651.00" y="874.0" font-size="27.78" text-anchor="middle">Oct 01</text><line x1="131.0" y1="833.00" x2="121.28" y2="833.00" stroke="#000" stroke-width="2.22"/><text x="112.6" y="843.55" font-size="27.78" text-anchor="end">0</text><line x1="131.0" y1="704.00" x2="121.28" y2="704.00" stroke="#000" stroke-width="2.22"/><text x="112.6" y="714.55" font-size="27.78" text-anchor="end">20</text><line x1="131.0" y1="576.00" x2="121.28" y2="576.00" stroke="#000" stroke-width="2.22"/><text x="112.6" y="586.55" font-size="27.78" text-anchor="end">40</text><line x1="131.0" y1="448.00" x2="121.28" y2="448.00" stroke="#000" stroke-width="2.22"/><text x="112.6" y="458.55" font-size="27.78" text-anchor="end">60</text><line x1="131.0" y1="319.00" x2="121.28" y2="319.00" stroke="#000" stroke-width="2.22"/><text x="112.6" y="329.55" font-size="27.78" text-anchor="end">80</text><line x1="131.0" y1="191.00" x2="121.28" y2="191.00" stroke="#000" stroke-width="2.22"/><text x="112.6" y="201.55" font-size="27.78" text-anchor="end">100</text><line x1="131.0" y1="63.00" x2="121.28" y2="63.00" stroke="#000" stroke-width="2.22"/><text x="112.6" y="73.55" font-size="27.78" text-anchor="end">120</text>
<rect x="131.0" y="63.0" width="2520.0" height="770.0" fill="none" stroke="#000" stroke-width="2.22" stroke-linejoin="miter"/>
<text x="1391.0" y="45.6" font-size="33.375" text-anchor="middle">2025 EMBER || Monitor AQSID: 060290008 [Kern County, California] || (n=176 out of 183 possible days)</text>
<text transform="translate(40.6,448.3) rotate(-90)" font-size="27.78" text-anchor="middle">MDA8 O3 (ppb)</text>
<rect x="145.3" y="76.3" width="381.3" height="175.89999999999998" rx="5.5" ry="5.5" fill="#fff" fill-opacity="0.8" stroke="#ccc" stroke-opacity="0.8" stroke-width="2.78"/>
<line x1="156.2" y1="99.9" x2="211.8" y2="99.9" stroke="#000" stroke-width="4.17" stroke-linecap="square"/>
<text x="234.7" y="109.6" font-size="27.78">Observed</text>
<line x1="156.2" y1="141.8" x2="211.8" y2="141.8" stroke="#0000ff" stroke-width="4.17" stroke-linecap="square"/>
<text x="234.7" y="151.5" font-size="27.78">Modeled (Basecase)</text>
<line x1="156.2" y1="183.6" x2="211.8" y2="183.6" stroke="#ff0000" stroke-width="4.17" stroke-linecap="square"/>
<text x="234.7" y="193.3" font-size="27.78">Fire Impacts</text>
<line x1="156.2" y1="225.8" x2="211.8" y2="225.8" stroke="#d3d3d3" stroke-width="4.17" stroke-dasharray="4.17 6.880"/>
<text x="234.7" y="235.5" font-size="27.78">71 ppb</text>
</svg></body></html>
